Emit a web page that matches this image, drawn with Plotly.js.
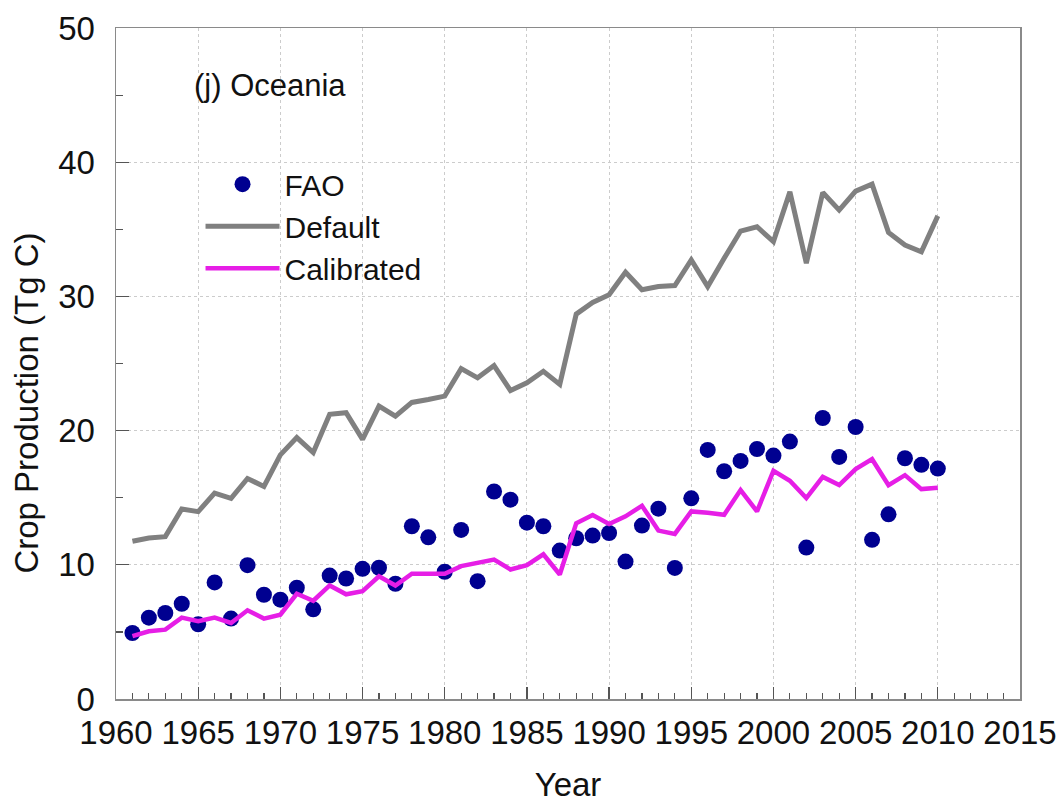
<!DOCTYPE html>
<html>
<head>
<meta charset="utf-8">
<script src="https://cdn.plot.ly/plotly-3.0.1.min.js"></script>
<style>html,body{margin:0;padding:0;background:#fff;}#chart{width:1064px;height:803px;}</style>
</head>
<body>
<div id="chart"></div>
<script>
const years = [1961,1962,1963,1964,1965,1966,1967,1968,1969,1970,1971,1972,1973,1974,1975,1976,1977,1978,1979,1980,1981,1982,1983,1984,1985,1986,1987,1988,1989,1990,1991,1992,1993,1994,1995,1996,1997,1998,1999,2000,2001,2002,2003,2004,2005,2006,2007,2008,2009,2010];

const fao = [4.92,6.06,6.41,7.10,5.57,8.69,5.99,9.97,7.77,7.40,8.29,6.68,9.20,8.98,9.70,9.78,8.59,12.87,12.05,9.48,12.60,8.78,15.46,14.85,13.14,12.87,11.06,11.98,12.18,12.37,10.24,12.92,14.18,9.77,14.95,18.56,16.97,17.74,18.63,18.14,19.18,11.28,20.94,18.04,20.27,11.86,13.76,17.94,17.45,17.17];

const defaultRun = [11.75,12.00,12.10,14.16,13.96,15.34,14.95,16.43,15.84,18.19,19.48,18.36,21.21,21.33,19.35,21.83,21.08,22.10,22.32,22.57,24.62,23.93,24.85,22.99,23.56,24.42,23.44,28.68,29.55,30.12,31.80,30.49,30.73,30.81,32.72,30.73,32.84,34.87,35.19,34.08,37.79,32.47,37.74,36.43,37.84,38.36,34.77,33.83,33.33,36.00];

const calibrated = [4.68,5.05,5.17,6.06,5.79,6.06,5.67,6.61,5.99,6.28,7.84,7.32,8.46,7.80,8.04,9.15,8.46,9.33,9.33,9.33,9.90,10.17,10.39,9.65,9.97,10.78,9.28,13.09,13.71,13.04,13.61,14.40,12.55,12.30,13.98,13.88,13.73,15.57,13.98,17.00,16.26,14.97,16.55,15.94,17.13,17.87,15.94,16.68,15.64,15.74];

const seriesNames = ['FAO','Default','Calibrated'];
const panelLabel = '(j) Oceania';
const xTitle = 'Year';
const yTitle = 'Crop Production (Tg C)';

const FONT = 'Liberation Sans, Arial, sans-serif';

const traces = [
  {x: years, y: fao, name: seriesNames[0], type: 'scatter', mode: 'markers',
   marker: {color: '#000090', size: 16}},
  {x: years, y: defaultRun, name: seriesNames[1], type: 'scatter', mode: 'lines',
   line: {color: '#808080', width: 5}},
  {x: years, y: calibrated, name: seriesNames[2], type: 'scatter', mode: 'lines',
   line: {color: '#e61ee6', width: 4.5}}
];

const axisCommon = {
  showline: true, mirror: true, linecolor: '#8a8a8a', linewidth: 1.5,
  ticks: 'inside', tickcolor: '#555', tickwidth: 1.2,
  showgrid: true, gridcolor: '#cccccc', gridwidth: 1, griddash: 'dot',
  zeroline: false,
  tickfont: {family: FONT, size: 33, color: '#111'}
};

const layout = {
  width: 1064, height: 803,
  margin: {l: 116, r: 44, t: 28, b: 104},
  paper_bgcolor: '#fff', plot_bgcolor: '#fff',
  font: {family: FONT, color: '#111'},
  showlegend: true,
  legend: {x: 0.0935, y: 0.806, xanchor: 'left', yanchor: 'top',
           bgcolor: 'rgba(0,0,0,0)', itemwidth: 74,
           font: {family: FONT, size: 30, color: '#111'}, tracegroupgap: 0},
  xaxis: Object.assign({}, axisCommon, {
    range: [1960, 2015], tickmode: 'linear', tick0: 1960, dtick: 5, ticklen: 12,
    ticklabelstandoff: 4,
    minor: {ticks: 'inside', dtick: 1, ticklen: 6, tickcolor: '#555', showgrid: false},
    title: {text: xTitle, font: {family: FONT, size: 33, color: '#111'}, standoff: 24}
  }),
  yaxis: Object.assign({}, axisCommon, {
    range: [0, 50], tickmode: 'linear', tick0: 0, dtick: 10, ticklen: 13,
    ticklabelstandoff: 13,
    minor: {ticks: 'inside', dtick: 5, ticklen: 7, tickcolor: '#555', showgrid: false}
  }),
  annotations: [
    {xref: 'paper', yref: 'paper', x: 0.084, y: 0.9136, xanchor: 'left', yanchor: 'middle',
     text: panelLabel, showarrow: false, font: {family: FONT, size: 31, color: '#111'}},
    {xref: 'paper', yref: 'paper', x: -0.099, y: 0.441, xanchor: 'center', yanchor: 'middle',
     text: yTitle, textangle: -90, showarrow: false, font: {family: FONT, size: 33, color: '#111'}}
  ]
};

Plotly.newPlot('chart', traces, layout, {displayModeBar: false, staticPlot: true});
</script>
</body>
</html>
